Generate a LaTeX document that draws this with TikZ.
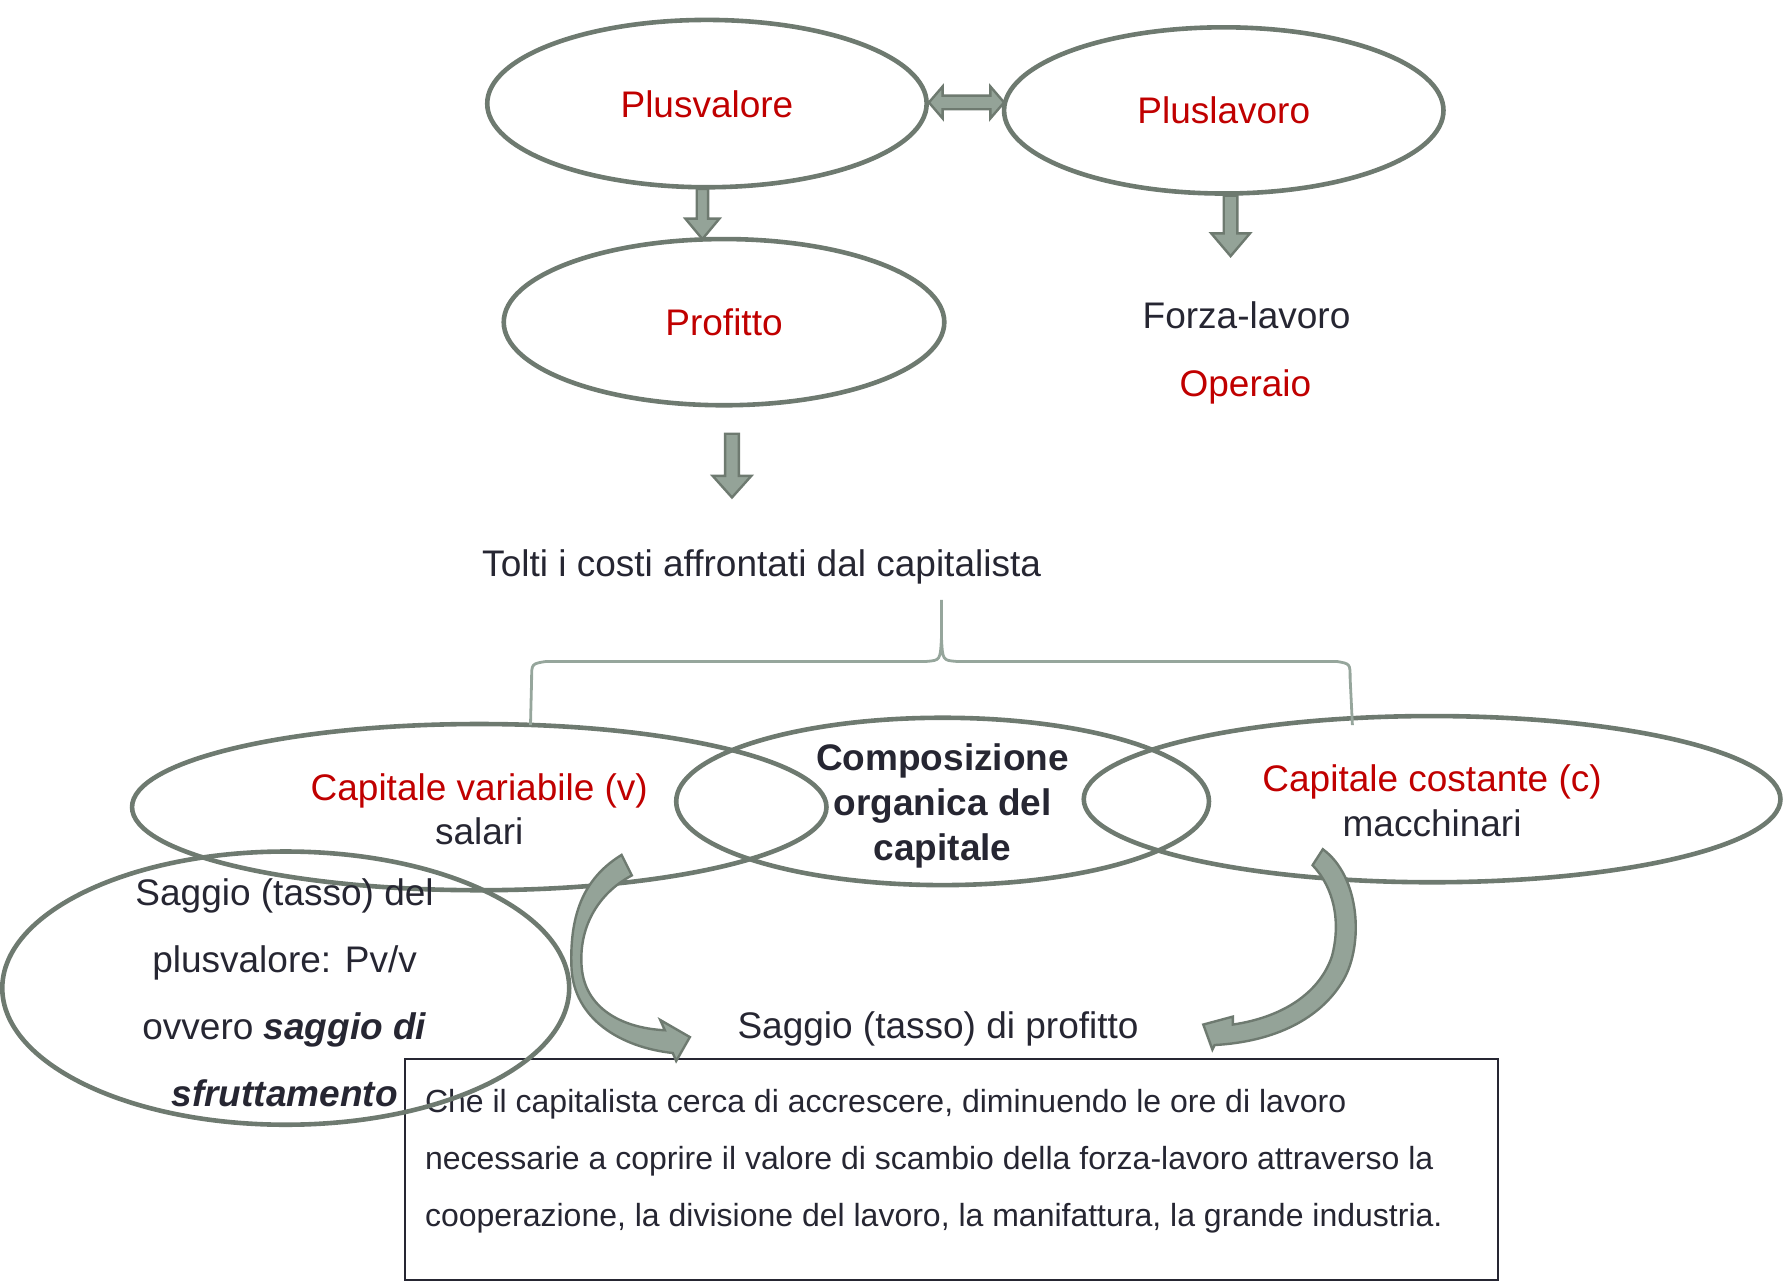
\documentclass[tikz,border=0pt]{standalone}
\usepackage{fontspec}
\setmainfont{Liberation Sans}
\usetikzlibrary{shapes.geometric,calc}
\definecolor{myred}{RGB}{192,0,0}
\definecolor{ink}{RGB}{38,38,50}
\definecolor{edgec}{RGB}{110,122,112}
\definecolor{arrfill}{RGB}{148,163,152}
\definecolor{brk}{RGB}{150,166,156}
\newcommand\vblk[5]{\draw[blk] ($(#1)+(-#3,0)$) -- ($(#2)+(-#3,-#5)$) -- ($(#2)+(-#4,-#5)$) -- (#2) -- ($(#2)+(#4,-#5)$) -- ($(#2)+(#3,-#5)$) -- ($(#1)+(#3,0)$) -- cycle;}
\begin{document}
\begin{tikzpicture}[x=0.5692pt,y=-0.5692pt,
  ell/.style={draw=edgec, line width=2.3pt, ellipse, inner sep=0pt},
  esz/.style 2 args={minimum width=#1*0.5692pt, minimum height=#2*0.5692pt},
  txt/.style={font=\fontsize{18.5}{22.2}\selectfont, text=ink, align=center, inner sep=0pt},
  rtxt/.style={txt, text=myred},
  blk/.style={draw=edgec, fill=arrfill, line width=1.2pt, line join=miter},
  brace/.style={draw=brk, line width=1.4pt}]
\useasboundingbox (0,0) rectangle (1568,1126);

% text box
\node[draw=ink, line width=0.9pt, esz={960}{194.5}, inner sep=0pt] (box) at (836,1027.25) {};
\node[anchor=west, align=left, text=ink, inner sep=0pt, font=\fontsize{16}{28.7}\selectfont] (boxt) at (373,1020)
 {Che il capitalista cerca di accrescere, diminuendo le ore di lavoro\\
  necessarie a coprire il valore di scambio della forza-lavoro attraverso la\\
  cooperazione, la divisione del lavoro, la manifattura, la grande industria.};

% ellipses
\node[ell, esz={386}{147}] (pv) at (621,91) {};
\node[ell, esz={386}{146}] (pl) at (1075,97) {};
\node[ell, esz={387}{146}] (pf) at (636,283) {};
\node[ell, esz={610}{146}] (cv) at (421,709) {};
\node[ell, esz={468}{147}] (co) at (828,704) {};
\node[ell, esz={612}{146}] (cc) at (1258,702) {};
\node[ell, esz={498}{240}] (sg) at (251,868) {};

% texts
\node[rtxt] (tpv) at (621,92) {Plusvalore};
\node[rtxt] (tpl) at (pl) {Pluslavoro};
\node[rtxt] (tpf) at (pf) {Profitto};
\node[txt] (fl) at (1095,277) {Forza-lavoro};
\node[rtxt] (op) at (1094,340) {Operaio};
\node[txt] (tolti) at (669,498) {Tolti i costi affrontati dal capitalista};
\node[txt] (tcv) at (421,711) {\textcolor{myred}{Capitale variabile (v)}\\salari};
\node[txt, font=\fontsize{18.5}{22.6}\selectfont\bfseries] (tco) at (828,708) {Composizione\\organica del\\capitale};
\node[txt] (tcc) at (1258,703.5) {\textcolor{myred}{Capitale costante (c)}\\macchinari};
\node[txt, font=\fontsize{18.5}{33.6}\selectfont] (tsg) at (250,872) {Saggio (tasso) del\\plusvalore: Pv/v\\ovvero \textbf{\textit{saggio di}}\\\textbf{\textit{sfruttamento}}};
\node[txt] (spf) at (824,904) {Saggio (tasso) di profitto};

% double arrow
\coordinate (dL) at (816,90);
\coordinate (dR) at (882,90);
\draw[blk] (dL) -- ++(12,-14) -- ++(0,8) -- ($(dR)+(-12,-6)$) -- ++(0,-8) -- (dR) -- ++(-12,14) -- ++(0,-8) -- ($(dL)+(12,6)$) -- ++(0,8) -- cycle;

% down arrows
\coordinate (a1s) at (617,166);
\coordinate (a1e) at (617,210);
\vblk{a1s}{a1e}{5}{15}{18}
\coordinate (a2s) at (1081,172);
\coordinate (a2e) at (1081,225);
\vblk{a2s}{a2e}{6}{17}{20}
\coordinate (a3s) at (643,381);
\coordinate (a3e) at (643,437);
\vblk{a3s}{a3e}{6}{17}{19}

% bracket
\draw[brace] (466,637) -- (467,596) .. controls (467,583) .. (480,581) -- (814,581) .. controls (826,580) .. (827,560) -- (827,527)
  (827,560) .. controls (828,580) .. (840,581) -- (1174,581) .. controls (1186,583) .. (1186,596) -- (1188,637);

% curved arrows
\draw[blk] (546,751) -- (555,769) .. controls (525,785) and (508,815) .. (511,850) .. controls (514,885) and (545,903) .. (584,905)
  -- (580,896) -- (606,911) -- (594,932) -- (591,925)
  .. controls (545,920) and (504,895) .. (502,850) .. controls (500,800) and (515,770) .. (546,751) -- cycle;
\draw[blk] (1153,760) -- (1162,746) .. controls (1195,770) and (1198,830) .. (1180,861) .. controls (1160,895) and (1120,915) .. (1067,918)
  -- (1065,922) -- (1057,900) -- (1083,893) -- (1083,900)
  .. controls (1130,893) and (1160,870) .. (1170,840) .. controls (1178,810) and (1172,780) .. (1153,760) -- cycle;
\end{tikzpicture}
\end{document}
